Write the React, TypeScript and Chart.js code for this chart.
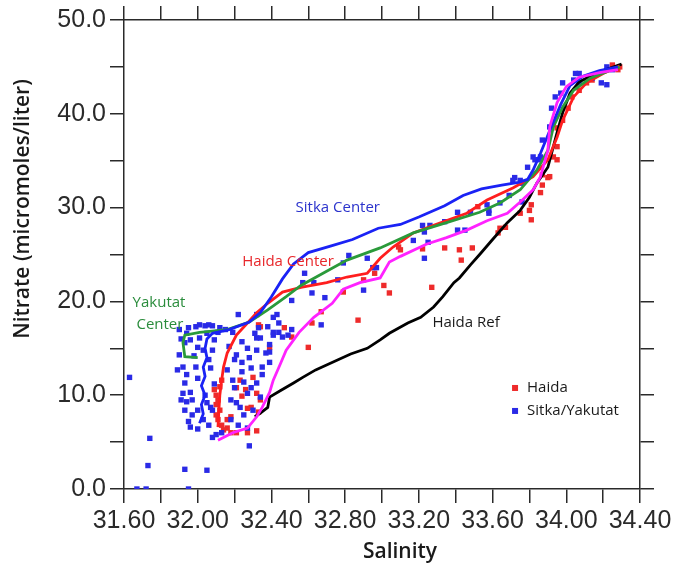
import React, { useEffect, useRef } from 'react';
import { Chart, registerables } from 'chart.js';

Chart.register(...registerables);

// ---------- tick labels ----------
const salinityTickLabels = ['31.60', '32.00', '32.40', '32.80', '33.20', '33.60', '34.00', '34.40'];
const nitrateTickLabels = ['0.0', '10.0', '20.0', '30.0', '40.0', '50.0'];

// ---------- profile lines (salinity, nitrate) ----------
const sitkaCenter: number[][] = [
  [32.01, 7.0], [32.03, 8.0], [32.02, 9.0], [32.04, 10.0], [32.02, 11.0], [32.04, 12.0], [32.03, 13.0],
  [32.05, 14.0], [32.04, 15.0], [32.05, 16.0],
  [32.08, 16.6], [32.17, 17.0], [32.28, 17.8], [32.34, 18.8], [32.40, 20.5], [32.46, 22.4], [32.52, 24.0],
  [32.60, 25.2], [32.72, 25.9], [32.84, 26.6], [32.98, 27.8], [33.10, 28.2], [33.20, 29.0], [33.34, 30.2],
  [33.44, 31.3], [33.54, 32.0], [33.65, 32.4], [33.74, 32.7], [33.79, 33.0], [33.82, 34.0], [33.86, 35.8],
  [33.91, 38.2], [33.97, 41.0], [34.02, 43.0], [34.09, 44.0], [34.18, 44.6], [34.28, 45.0],
];
const haidaCenter: number[][] = [
  [32.11, 6.6], [32.115, 8.4], [32.12, 10.0], [32.13, 11.6], [32.14, 13.0], [32.16, 14.5], [32.21, 16.4],
  [32.27, 17.7], [32.32, 18.8], [32.38, 19.8], [32.46, 21.0], [32.56, 21.5], [32.70, 22.0], [32.81, 22.6],
  [32.92, 23.0], [32.99, 24.6], [33.06, 25.8], [33.17, 27.3], [33.28, 28.1], [33.46, 29.4], [33.57, 30.8],
  [33.71, 32.1], [33.82, 33.3], [33.90, 35.1], [33.95, 37.5], [33.98, 39.3], [34.04, 41.8], [34.11, 43.3],
  [34.20, 44.3], [34.29, 45.1],
];
const yakutatCenter: number[][] = [
  [32.00, 14.0], [31.93, 14.1], [31.92, 15.6], [31.93, 16.4], [32.01, 16.7], [32.16, 17.0], [32.28, 17.8],
  [32.38, 19.1], [32.48, 20.5], [32.56, 21.7], [32.68, 23.0], [32.81, 24.4], [32.99, 25.7], [33.17, 27.3],
  [33.35, 28.4], [33.53, 29.5], [33.64, 30.5], [33.75, 31.9], [33.84, 34.0], [33.90, 36.1], [33.93, 38.6],
  [33.98, 40.7], [34.04, 42.5], [34.13, 43.8], [34.22, 44.5], [34.29, 45.0],
];
const magentaProfile: number[][] = [
  [32.11, 5.2], [32.19, 6.0], [32.27, 6.5], [32.32, 7.7], [32.35, 8.7], [32.39, 10.3], [32.41, 11.6],
  [32.45, 13.4], [32.48, 14.8], [32.55, 16.7], [32.63, 18.3], [32.73, 19.8], [32.79, 21.3], [32.88, 22.0],
  [32.99, 22.5], [33.04, 24.2], [33.10, 24.8], [33.24, 26.1], [33.35, 26.8], [33.46, 27.6], [33.57, 28.6],
  [33.68, 29.4], [33.75, 30.6], [33.82, 31.9], [33.86, 33.3], [33.90, 36.1], [33.91, 38.6], [33.95, 41.2],
  [34.00, 42.9], [34.07, 43.9], [34.18, 44.4], [34.28, 44.7],
];
const haidaRef: number[][] = [
  [32.31, 7.7], [32.34, 8.1], [32.38, 8.7], [32.39, 9.8], [32.45, 10.5], [32.52, 11.3], [32.57, 11.9],
  [32.64, 12.7], [32.72, 13.4], [32.83, 14.4], [32.92, 15.0], [32.99, 15.9], [33.04, 16.6], [33.14, 17.7],
  [33.21, 18.3], [33.28, 19.4], [33.33, 20.5], [33.39, 22.0], [33.42, 22.5], [33.48, 23.9], [33.53, 25.0],
  [33.60, 26.6], [33.68, 28.4], [33.75, 29.7], [33.80, 31.1], [33.84, 32.6], [33.90, 34.3], [33.95, 38.0],
  [33.98, 40.1], [34.02, 42.2], [34.07, 43.4], [34.17, 44.4], [34.30, 45.3],
];

// ---------- bottle samples ----------
const haidaSamples: number[][] = [
  [32.33, 17.5], [32.39, 15.1], [32.23, 11.6], [32.26, 10.6], [32.21, 10.8], [32.32, 10.2], [32.29, 8.7],
  [32.34, 9.5], [32.27, 8.6], [32.33, 8.2], [32.18, 7.7], [32.16, 7.4], [32.16, 6.5], [32.21, 6.0],
  [32.12, 10.9], [32.13, 11.6], [32.10, 10.0], [32.11, 9.5], [32.10, 9.0], [32.12, 8.4], [32.10, 7.9],
  [32.11, 7.4], [32.13, 6.8], [32.14, 6.3], [32.09, 10.6], [32.47, 17.2], [32.51, 16.2], [32.34, 17.3],
  [32.67, 18.9], [32.79, 21.0], [32.90, 22.3], [33.01, 21.7], [32.96, 23.0], [32.87, 18.0], [32.60, 15.1],
  [33.09, 25.8], [33.10, 25.5], [33.22, 25.6], [33.34, 25.7], [33.42, 25.5], [33.49, 25.7], [33.43, 24.4],
  [33.52, 30.1], [33.64, 27.8], [33.63, 27.3], [33.67, 27.9], [33.27, 21.5], [33.04, 20.9], [32.62, 17.7],
  [33.87, 33.5], [33.91, 33.3], [33.87, 32.4], [33.86, 31.6], [33.81, 30.3], [33.80, 29.7], [33.95, 35.1],
  [33.93, 35.4], [33.95, 36.5], [33.95, 38.5], [33.98, 39.3], [34.01, 40.6], [34.03, 41.8], [34.07, 42.5],
  [34.11, 43.3], [34.14, 43.6], [34.25, 45.2], [34.28, 44.7], [34.29, 45.0], [33.90, 33.2], [33.75, 29.4],
  [33.81, 28.7], [32.18, 6.0], [32.27, 6.0], [32.32, 6.2], [32.24, 9.9], [32.30, 11.9],
];
const sitkaYakutatSamples: number[][] = [
  [31.63, 11.9], [31.74, 5.4], [31.73, 2.5], [31.93, 2.1], [32.05, 2.0], [32.28, 4.6], [31.67, 0.0],
  [31.72, 0.0], [31.95, 0.0],
  [31.94, 16.6], [31.99, 17.3], [32.01, 17.5], [32.04, 17.4], [32.08, 17.4], [32.11, 16.7], [32.19, 16.7],
  [31.93, 15.6], [31.96, 15.9], [32.00, 15.1], [32.03, 14.8], [32.08, 14.8], [31.89, 12.7], [31.92, 13.0],
  [31.99, 13.0], [32.07, 12.9], [31.93, 11.3], [31.91, 9.5], [31.94, 9.3], [31.97, 9.5], [31.93, 8.4],
  [31.97, 7.9], [32.07, 8.7], [32.03, 7.4], [31.96, 6.6], [32.08, 8.4], [31.90, 14.3], [32.01, 16.1],
  [32.05, 16.6], [32.09, 15.9], [31.96, 10.3], [32.04, 10.0], [32.00, 8.4], [32.06, 6.8], [31.92, 10.2],
  [32.12, 17.2], [32.15, 17.0], [31.90, 17.0], [31.95, 17.2], [32.06, 17.5], [31.91, 16.0], [31.98, 14.2],
  [32.06, 13.8], [31.94, 12.2], [32.00, 11.8], [32.09, 11.2], [31.95, 7.2], [32.05, 9.2], [32.00, 6.4],
  [32.22, 18.6], [32.32, 18.6], [32.43, 18.6], [32.44, 16.7], [32.49, 16.4], [32.24, 15.7], [32.27, 15.0],
  [32.32, 14.8], [32.37, 14.5], [32.39, 14.6], [32.20, 13.8], [32.24, 13.5], [32.29, 12.9], [32.35, 13.0],
  [32.39, 13.5], [32.16, 12.7], [32.24, 12.5], [32.19, 11.6], [32.25, 11.4], [32.32, 11.3], [32.20, 10.8],
  [32.27, 10.2], [32.34, 9.8], [32.18, 9.5], [32.23, 8.7], [32.30, 8.4], [32.25, 7.9], [32.18, 7.4],
  [32.22, 6.8], [32.27, 6.5], [32.10, 5.8], [32.13, 6.0], [32.08, 5.5], [32.51, 20.1], [32.51, 17.0],
  [32.41, 16.4], [32.17, 15.2], [32.21, 14.3], [32.28, 14.0], [32.35, 12.2], [32.29, 10.8], [32.21, 9.2],
  [32.82, 24.9], [32.79, 24.1], [32.92, 24.6], [32.95, 23.6], [32.97, 23.6], [32.58, 23.0], [32.57, 22.0],
  [32.63, 22.0], [32.76, 22.3], [32.62, 20.9], [32.69, 20.4], [32.67, 17.5], [32.41, 18.3], [32.44, 17.7],
  [32.38, 17.3], [32.33, 17.2], [32.31, 16.6], [32.32, 16.1], [32.34, 16.1], [32.41, 16.7], [32.46, 16.2],
  [32.39, 15.4], [32.90, 21.2], [33.17, 26.5], [33.25, 26.3], [33.22, 28.1], [33.26, 28.1], [33.23, 27.4],
  [33.34, 28.5], [33.41, 29.5], [33.48, 29.5], [33.41, 27.6], [33.45, 27.6], [33.58, 29.4], [33.64, 30.5],
  [33.69, 31.3], [33.71, 32.9], [33.23, 24.6],
  [33.58, 29.7], [33.72, 33.2], [33.75, 32.9], [33.76, 32.6], [33.79, 34.3], [33.83, 35.1], [33.85, 35.1],
  [33.86, 35.4], [33.82, 35.4], [33.87, 37.2], [33.91, 38.6], [33.92, 40.6], [33.94, 41.8], [33.97, 42.2],
  [33.98, 43.3], [34.05, 44.3], [34.07, 44.3], [34.04, 43.6], [34.07, 43.3], [34.22, 45.0], [34.25, 44.7],
  [34.19, 43.3], [34.22, 43.1], [34.14, 43.8], [33.76, 30.6], [33.57, 30.3],
];

// ---------- in-plot labels (salinity, nitrate) ----------
const curveLabels = [
  { text: 'Sitka Center', s: 32.76, n: 30.0, color: '#2b33cc' },
  { text: 'Haida Center', s: 32.49, n: 24.2, color: '#e8262a' },
  { text: 'Yakutat', s: 31.79, n: 19.9, color: '#2a8c3c' },
  { text: 'Center', s: 31.795, n: 17.5, color: '#2a8c3c' },
  { text: 'Haida Ref', s: 33.456, n: 17.7, color: '#1a1a1a' },
];
const legendItems = [
  { text: 'Haida', color: '#ee2b2b', s: 33.722, n: 10.77 },
  { text: 'Sitka/Yakutat', color: '#2a2ae6', s: 33.722, n: 8.32 },
];

const toXY = (arr: number[][]) => arr.map(([x, y]) => ({ x, y }));

const TICK_FONT = { family: 'Liberation Sans', size: 25 };
const AXIS_COLOR = '#2a2a2a';

export default function App() {
  const ref = useRef<HTMLCanvasElement | null>(null);

  useEffect(() => {
    if (!ref.current) return;

    const textPlugin = {
      id: 'textPlugin',
      afterDraw(chart: any) {
        const { ctx } = chart;
        const xs = chart.scales.x;
        const ys = chart.scales.y;
        ctx.save();
        ctx.textBaseline = 'middle';
        ctx.textAlign = 'center';
        ctx.font = '15px "Open Sans"';
        for (const l of curveLabels) {
          ctx.fillStyle = l.color;
          ctx.fillText(l.text, xs.getPixelForValue(l.s), ys.getPixelForValue(l.n));
        }
        ctx.textAlign = 'left';
        for (const it of legendItems) {
          const px = xs.getPixelForValue(it.s);
          const py = ys.getPixelForValue(it.n);
          ctx.fillStyle = it.color;
          ctx.fillRect(px - 3, py - 3, 6, 6);
          ctx.fillStyle = '#1a1a1a';
          ctx.fillText(it.text, px + 12, py);
        }
        // axis titles
        ctx.fillStyle = '#1a1a1a';
        ctx.font = '600 21px "Open Sans"';
        ctx.textAlign = 'center';
        ctx.fillText('Salinity', 400, 552);
        ctx.save();
        ctx.translate(23, 209);
        ctx.rotate(-Math.PI / 2);
        ctx.fillText('Nitrate (micromoles/liter)', 0, 0);
        ctx.restore();
        ctx.restore();
      },
    };

    const lineDs = (label: string, arr: number[][], color: string, order: number) => ({
      label,
      data: toXY(arr),
      showLine: true,
      borderColor: color,
      backgroundColor: color,
      borderWidth: 2.8,
      pointRadius: 0,
      tension: 0,
      fill: false,
      order,
    });
    const ptDs = (label: string, arr: number[][], color: string) => ({
      label,
      data: toXY(arr),
      showLine: false,
      pointStyle: 'rect',
      pointRadius: 3.8,
      pointBorderWidth: 0,
      pointBackgroundColor: color,
      borderColor: color,
      backgroundColor: color,
      order: 10,
    });

    const gridOpts = { drawOnChartArea: false, drawTicks: true, tickLength: 14, color: AXIS_COLOR, lineWidth: 1.5 };
    const borderOpts = { display: true, color: AXIS_COLOR, width: 1.5 };

    const chart = new Chart(ref.current, {
      type: 'scatter',
      data: {
        datasets: [
          ptDs('Sitka/Yakutat', sitkaYakutatSamples, '#2a2ae6'),
          ptDs('Haida', haidaSamples, '#ee2b2b'),
          lineDs('Haida Ref', haidaRef, '#000000', 5),
          lineDs('Haida Center', haidaCenter, '#ff1e1e', 4),
          lineDs('Yakutat Center', yakutatCenter, '#2a9a3a', 3),
          lineDs('Sitka Center', sitkaCenter, '#1a22f5', 2),
          lineDs('Magenta profile', magentaProfile, '#ff22ff', 1),
        ] as any,
      },
      options: {
        responsive: false,
        animation: false,
        layout: { padding: 0 },
        plugins: { legend: { display: false }, tooltip: { enabled: false } },
        scales: {
          x: {
            type: 'linear',
            position: 'bottom',
            min: 31.6,
            max: 34.4,
            afterFit: (s: any) => { s.height = 77; },
            ticks: {
              stepSize: 0.2,
              autoSkip: false,
              maxRotation: 0,
              minRotation: 0,
              padding: 3,
              color: AXIS_COLOR,
              font: TICK_FONT,
              callback: (v: any) => {
                const lbl = Number(v).toFixed(2);
                return salinityTickLabels.includes(lbl) ? lbl : '';
              },
            },
            grid: gridOpts,
            border: borderOpts,
          },
          x2: {
            type: 'linear',
            position: 'top',
            min: 31.6,
            max: 34.4,
            afterFit: (s: any) => { s.height = 20; },
            ticks: { stepSize: 0.2, autoSkip: false, display: false },
            grid: gridOpts,
            border: borderOpts,
          },
          y: {
            type: 'linear',
            position: 'left',
            min: 0,
            max: 50,
            afterFit: (s: any) => { s.width = 124; },
            ticks: {
              stepSize: 5,
              autoSkip: false,
              padding: 4,
              color: AXIS_COLOR,
              font: TICK_FONT,
              callback: (v: any) => {
                const lbl = Number(v).toFixed(1);
                return nitrateTickLabels.includes(lbl) ? lbl : '';
              },
            },
            grid: gridOpts,
            border: borderOpts,
          },
          y2: {
            type: 'linear',
            position: 'right',
            min: 0,
            max: 50,
            afterFit: (s: any) => { s.width = 36; },
            ticks: { stepSize: 5, autoSkip: false, display: false },
            grid: gridOpts,
            border: borderOpts,
          },
        },
      } as any,
      plugins: [textPlugin],
    });

    return () => chart.destroy();
  }, []);

  return (
    <div style={{ position: 'absolute', left: 0, top: 0, width: 676, height: 566, background: '#fff' }}>
      <canvas ref={ref} width={676} height={566} />
    </div>
  );
}
